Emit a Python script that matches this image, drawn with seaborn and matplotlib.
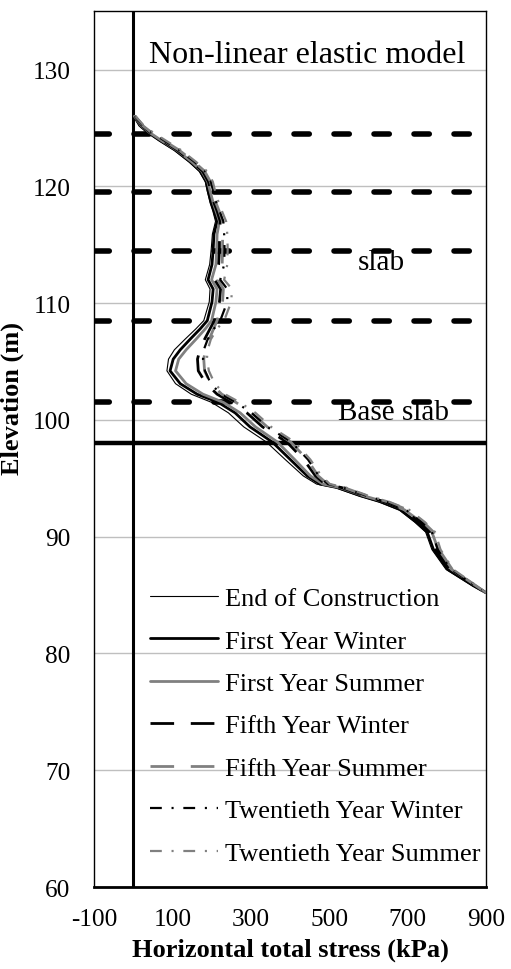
import matplotlib
matplotlib.use("Agg")
import matplotlib.pyplot as plt
import seaborn as sns
import pandas as pd

# ---------------- data ----------------
elevation = [126.0, 125.2, 124.6, 123.9, 123.1, 122.1, 121.3, 120.4, 119.6, 118.6,
             117.9, 117.0, 115.9, 114.6, 113.3, 112.0, 111.2, 110.1, 108.5, 107.8,
             106.9, 106.0, 105.2, 104.2, 103.1, 102.2, 101.5, 100.6, 99.4, 98.1,
             96.6, 95.2, 94.5, 94.2, 93.5, 93.0, 92.3, 91.25, 90.4, 88.9,
             87.2, 85.8, 85.2]

end_of_construction = [2, 15, 36, 66, 104, 142, 168, 184, 189, 196,
                       203, 210, 202, 199, 195, 184, 196, 194, 180, 160,
                       132, 105, 90, 86, 108, 148, 200, 243, 282, 340,
                       388, 434, 468, 515, 575, 625, 678, 718, 746, 762,
                       798, 865, 900]
first_year_winter = [2, 17, 38, 69, 107, 145, 171, 186, 191, 199,
                     206, 214, 206, 204, 201, 191, 204, 201, 189, 171,
                     145, 120, 102, 94, 120, 163, 217, 260, 298, 355,
                     401, 444, 477, 521, 580, 630, 682, 722, 750, 766,
                     802, 868, 900]
first_year_summer = [3, 20, 42, 73, 111, 149, 175, 190, 196, 204,
                     211, 220, 214, 213, 211, 200, 214, 211, 200, 184,
                     160, 135, 116, 108, 135, 178, 230, 273, 312, 368,
                     412, 452, 484, 528, 588, 640, 692, 735, 762, 778,
                     812, 874, 900]
fifth_year_winter = [4, 22, 44, 75, 113, 150, 177, 192, 198, 206,
                     214, 222, 220, 220, 218, 208, 223, 220, 207, 196,
                     182, 170, 164, 166, 186, 214, 250, 290, 330, 392,
                     435, 465, 490, 532, 590, 640, 690, 730, 756, 772,
                     808, 870, 900]
fifth_year_summer = [5, 24, 47, 79, 117, 155, 182, 197, 203, 211,
                     219, 228, 228, 228, 227, 216, 230, 228, 214, 205,
                     194, 184, 180, 182, 198, 226, 262, 302, 342, 402,
                     444, 472, 496, 538, 596, 648, 700, 740, 766, 780,
                     814, 874, 900]
twentieth_year_winter = [5, 25, 48, 80, 118, 156, 183, 198, 204, 212,
                         220, 230, 232, 233, 232, 222, 240, 240, 222, 206,
                         190, 180, 178, 183, 198, 224, 262, 302, 342, 404,
                         446, 474, 497, 538, 595, 645, 696, 736, 762, 777,
                         812, 873, 900]
twentieth_year_summer = [6, 27, 51, 84, 122, 160, 188, 203, 209, 218,
                         226, 237, 240, 241, 240, 232, 252, 250, 232, 214,
                         198, 190, 188, 193, 208, 234, 272, 312, 352, 412,
                         452, 480, 502, 543, 600, 652, 704, 744, 770, 784,
                         816, 876, 900]

series_labels = ["End of Construction", "First Year Winter", "First Year Summer",
                 "Fifth Year Winter", "Fifth Year Summer",
                 "Twentieth Year Winter", "Twentieth Year Summer"]
x_ticks = [-100, 100, 300, 500, 700, 900]
y_ticks = [60, 70, 80, 90, 100, 110, 120, 130]
slab_levels = [124.5, 119.5, 114.5, 108.5, 101.5]
base_level = 98.0
title_text = "Non-linear elastic model"
slab_text = "slab"
base_slab_text = "Base slab"
x_label = "Horizontal total stress (kPa)"
y_label = "Elevation (m)"

# ---------------- style ----------------
sns.set_theme(style="white")
plt.rcParams['font.family'] = ['Liberation Serif', 'DejaVu Serif']
plt.rcParams['lines.scale_dashes'] = False
plt.rcParams['axes.unicode_minus'] = False

fig = plt.figure(figsize=(5.11, 9.70), dpi=100)
ax = fig.add_axes([0.184, 0.0845, 0.767, 0.903])

GRAY = '#808080'
styles = [
    dict(color='black', lw=0.8, dashes=None),
    dict(color='black', lw=2.0, dashes=None),
    dict(color=GRAY, lw=2.0, dashes=None),
    dict(color='black', lw=2.0, dashes=(17, 12)),
    dict(color=GRAY, lw=2.0, dashes=(17, 12)),
    dict(color='black', lw=1.6, dashes=(8.5, 7, 1.5, 7)),
    dict(color=GRAY, lw=1.6, dashes=(8.5, 7, 1.5, 7)),
]
all_series = [end_of_construction, first_year_winter, first_year_summer,
              fifth_year_winter, fifth_year_summer,
              twentieth_year_winter, twentieth_year_summer]

# grid and reference lines
ax.set_axisbelow(True)
ax.yaxis.grid(True, color='#bfbfbf', lw=1.0)
ax.xaxis.grid(False)
for lev in slab_levels:
    ax.axhline(lev, color='black', lw=4.0, dashes=(11, 17.8),
               dash_capstyle='round', zorder=2)
ax.axhline(base_level, color='black', lw=3.2, zorder=2)
ax.axvline(0, color='black', lw=2.2, zorder=2)

handles = []
for vals, lab, st in zip(all_series, series_labels, styles):
    df = pd.DataFrame({'stress': vals, 'elev': elevation})
    sns.lineplot(data=df, x='stress', y='elev', sort=False, estimator=None,
                 color=st['color'], lw=st['lw'], ax=ax, zorder=3, legend=False)
    ln = ax.lines[-1]
    if st['dashes'] is not None:
        ln.set_dashes(st['dashes'])
    ln.set_label(lab)
    handles.append(ln)

ax.set_xlim(-100, 900)
ax.set_ylim(60, 135)
ax.set_xticks(x_ticks)
ax.set_yticks(y_ticks)
ax.tick_params(axis='both', length=0, labelsize=18.2, colors='black')
ax.tick_params(axis='y', pad=17)
ax.tick_params(axis='x', pad=15)

for s in ['left', 'right', 'top']:
    ax.spines[s].set_color('black')
    ax.spines[s].set_linewidth(1.0)
ax.spines['bottom'].set_color('black')
ax.spines['bottom'].set_linewidth(2.0)

ax.set_xlabel(x_label, fontsize=19, fontweight='bold', color='black')
ax.set_ylabel(y_label, fontsize=19, fontweight='bold', color='black')
ax.xaxis.set_label_coords(0.5, -0.058)
ax.yaxis.set_label_coords(-0.179, 0.559)

ax.text(0.140, 0.950, title_text, transform=ax.transAxes, fontsize=23,
        ha='left', va='center', color='black')
ax.text(572, 113.5, slab_text, fontsize=21, ha='left', va='center', color='black')
ax.text(523, 100.65, base_slab_text, fontsize=21, ha='left', va='center', color='black')

leg = ax.legend(handles=handles, loc='upper left', bbox_to_anchor=(0.143, 0.343),
                frameon=False, fontsize=19, handlelength=2.58, handletextpad=0.27,
                labelspacing=0.72, borderpad=0, borderaxespad=0)
for t in leg.get_texts():
    t.set_color('black')

fig.savefig('out.png', dpi=100)
